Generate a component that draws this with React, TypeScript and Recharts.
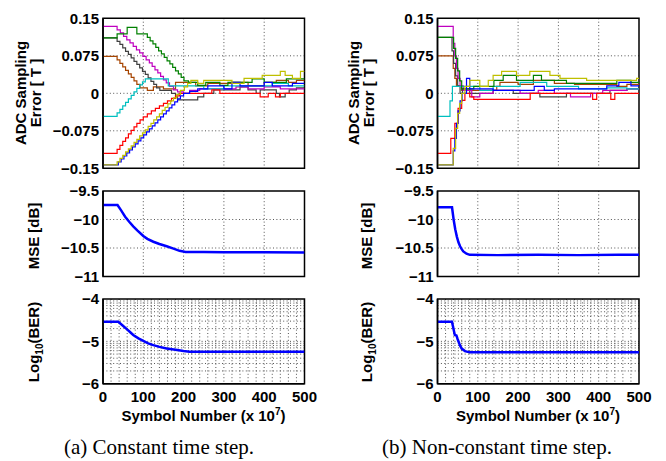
import React from 'react';
import { LineChart, Line, XAxis, YAxis, CartesianGrid, ReferenceArea } from 'recharts';

type Pt = [number, number];

// ---- axis ticks / labels ----
const symbolTicks = [0, 100, 200, 300, 400, 500];
const symbolTickLabels = ['0', '100', '200', '300', '400', '500'];
const majorGridX = [100, 200, 300, 400];
const minorGridX = [20, 40, 60, 80, 100, 120, 140, 160, 180, 200, 220, 240, 260, 280, 300, 320, 340, 360, 380, 400, 420, 440, 460, 480];
const errTicks = [-0.15, -0.075, 0, 0.075, 0.15];
const errTickLabels = ['\u22120.15', '\u22120.075', '0', '0.075', '0.15'];
const errGridY = [-0.075, 0, 0.075];
const mseTicks = [-11, -10.5, -10, -9.5];
const mseTickLabels = ['\u221211', '\u221210.5', '\u221210', '\u22129.5'];
const mseGridY = [-10.5, -10];
const berTicks = [-6, -5, -4];
const berTickLabels = ['\u22126', '\u22125', '\u22124'];
const berGridY = [-5.69897, -5.52288, -5.39794, -5.30103, -5.22185, -5.1549, -5.09691, -5.04576, -5, -4.69897, -4.52288, -4.39794, -4.30103, -4.22185, -4.1549, -4.09691, -4.04576];

// ---- (a) constant time step: ADC sampling error [T] ----
const leftMagenta: Pt[] = [[0,0.134],[35,0.127],[43,0.121],[51,0.114],[59,0.107],[67,0.101],[75,0.094],[83,0.087],[91,0.081],[99,0.074],[107,0.067],[115,0.061],[122,0.054],[129,0.047],[136,0.041],[143,0.034],[150,0.027],[157,0.021],[165,0.014],[175,0.007],[185,0.003],[200,0.0],[215,0.006],[240,0.009],[330,0.013],[360,0.009],[400,0.013],[440,0.009],[500,0.009]];
const leftGreen: Pt[] = [[0,0.111],[35,0.119],[60,0.132],[84,0.119],[110,0.112],[117,0.105],[124,0.099],[131,0.092],[138,0.085],[145,0.079],[152,0.072],[159,0.065],[166,0.059],[173,0.052],[180,0.045],[187,0.039],[194,0.032],[201,0.025],[212,0.022],[235,0.016],[255,0.022],[290,0.016],[310,0.022],[370,0.029],[400,0.022],[455,0.029],[500,0.029]];
const leftGray: Pt[] = [[0,0.111],[35,0.104],[42,0.098],[49,0.091],[56,0.084],[63,0.078],[70,0.071],[77,0.064],[84,0.058],[91,0.051],[98,0.044],[105,0.038],[112,0.031],[119,0.024],[126,0.018],[133,0.011],[141,0.006],[170,0.0],[180,-0.007],[185,-0.013],[235,-0.007],[250,0.0],[275,0.007],[340,0.013],[360,0.007],[380,0.0],[390,0.007],[430,0.0],[438,-0.007],[452,0.0],[462,0.007],[480,0.011],[500,0.011]];
const leftBrown: Pt[] = [[0,0.074],[35,0.067],[42,0.06],[49,0.053],[56,0.046],[63,0.039],[70,0.032],[77,0.025],[84,0.018],[92,0.011],[110,0.006],[125,0.013],[150,0.009],[180,0.022],[230,0.015],[260,0.02],[320,0.022],[360,0.015],[400,0.022],[430,0.026],[460,0.022],[480,0.026],[500,0.026]];
const leftCyan: Pt[] = [[0,-0.046],[35,-0.039],[42,-0.032],[49,-0.025],[56,-0.018],[63,-0.011],[70,-0.004],[77,0.003],[84,0.01],[91,0.017],[98,0.023],[105,0.029],[162,0.015],[250,0.009],[300,0.015],[420,0.02],[460,0.015],[500,0.015]];
const leftRed: Pt[] = [[0,-0.12],[35,-0.112],[42,-0.104],[49,-0.096],[56,-0.089],[63,-0.081],[70,-0.074],[77,-0.067],[84,-0.06],[92,-0.053],[100,-0.047],[110,-0.041],[120,-0.035],[130,-0.03],[140,-0.025],[150,-0.02],[160,-0.015],[170,-0.01],[180,-0.005],[190,0.0],[270,0.007],[290,0.0],[390,-0.007],[410,0.0],[428,-0.007],[440,0.0],[500,0.0]];
const leftBlue: Pt[] = [[0,-0.143],[38,-0.137],[45,-0.131],[52,-0.125],[59,-0.119],[66,-0.113],[73,-0.107],[80,-0.101],[87,-0.095],[94,-0.089],[101,-0.083],[108,-0.077],[115,-0.071],[122,-0.065],[129,-0.059],[136,-0.053],[143,-0.047],[150,-0.041],[157,-0.035],[164,-0.029],[171,-0.023],[178,-0.017],[185,-0.011],[192,-0.005],[200,0.0],[215,0.004],[235,0.009],[260,0.015],[300,0.009],[320,0.022],[340,0.015],[400,0.022],[420,0.015],[470,0.02],[500,0.02]];
const leftYellow: Pt[] = [[0,-0.143],[35,-0.137],[42,-0.13],[49,-0.124],[56,-0.117],[63,-0.111],[70,-0.105],[77,-0.098],[84,-0.092],[91,-0.085],[98,-0.079],[105,-0.073],[112,-0.066],[119,-0.06],[126,-0.053],[133,-0.047],[140,-0.041],[147,-0.034],[154,-0.028],[161,-0.021],[168,-0.015],[175,-0.009],[183,-0.002],[192,0.006],[202,0.013],[210,0.02],[218,0.026],[235,0.02],[250,0.026],[320,0.02],[350,0.03],[395,0.036],[440,0.044],[452,0.036],[470,0.03],[490,0.044],[500,0.044]];

// ---- (b) non-constant time step: ADC sampling error [T] ----
const rightMagenta: Pt[] = [[0,0.134],[39,0.1],[43,0.075],[47,0.05],[51,0.03],[56,0.015],[64,0.006],[85,-0.007],[105,0.0],[138,0.006],[205,0.0],[250,0.006],[290,0.0],[330,-0.007],[380,0.0],[410,0.006],[470,0.009],[500,0.009]];
const rightGreen: Pt[] = [[0,0.112],[40,0.09],[45,0.07],[50,0.045],[55,0.025],[60,0.009],[90,0.014],[140,0.026],[163,0.036],[196,0.026],[238,0.036],[258,0.026],[320,0.02],[445,0.026],[480,0.022],[500,0.022]];
const rightGray: Pt[] = [[0,0.112],[36,0.085],[40,0.06],[45,0.035],[50,0.015],[56,0.0],[62,0.009],[80,0.0],[138,0.006],[188,0.0],[254,-0.007],[320,0.0],[428,0.006],[470,0.009],[500,0.009]];
const rightBrown: Pt[] = [[0,0.075],[39,0.05],[43,0.03],[47,0.015],[60,0.006],[147,0.014],[155,0.022],[200,0.018],[238,0.026],[290,0.02],[340,0.018],[445,0.014],[470,0.018],[500,0.018]];
const rightCyan: Pt[] = [[0,-0.046],[31,-0.015],[37,0.014],[105,0.006],[138,0.014],[205,0.022],[271,0.014],[350,0.009],[420,0.011],[470,0.009],[500,0.009]];
const rightBlue: Pt[] = [[0,-0.143],[39,-0.115],[43,-0.09],[47,-0.06],[51,-0.035],[56,-0.015],[61,0.0],[72,0.03],[80,0.009],[138,0.006],[240,0.014],[265,0.006],[290,0.009],[420,0.015],[450,0.022],[480,0.015],[500,0.015]];
const rightRed: Pt[] = [[0,-0.12],[33,-0.09],[43,-0.06],[51,-0.03],[60,-0.014],[68,0.0],[80,-0.007],[90,-0.012],[230,0.0],[385,-0.012],[395,0.0],[430,-0.012],[440,0.0],[500,0.0]];
const rightYellow: Pt[] = [[0,-0.143],[39,-0.11],[45,-0.07],[50,-0.04],[55,-0.02],[60,0.0],[68,0.014],[80,0.026],[105,0.014],[126,0.026],[138,0.036],[159,0.044],[196,0.036],[229,0.044],[279,0.036],[304,0.03],[370,0.026],[494,0.03],[500,0.03]];

// ---- MSE [dB] ----
const leftMse: Pt[] = [[0,-9.745],[36,-9.745],[45,-9.84],[55,-9.95],[65,-10.04],[75,-10.12],[85,-10.19],[100,-10.29],[110,-10.34],[125,-10.39],[140,-10.43],[158,-10.47],[175,-10.51],[190,-10.55],[205,-10.57],[250,-10.57],[300,-10.575],[400,-10.575],[500,-10.578]];
const rightMse: Pt[] = [[0,-9.786],[36,-9.786],[40,-10.0],[44,-10.17],[48,-10.3],[52,-10.4],[56,-10.47],[60,-10.52],[64,-10.56],[72,-10.6],[80,-10.62],[150,-10.625],[250,-10.62],[350,-10.625],[450,-10.62],[500,-10.62]];

// ---- Log10(BER) ----
const leftBer: Pt[] = [[0,-4.538],[38,-4.538],[48,-4.62],[59,-4.71],[67,-4.78],[75,-4.85],[88,-4.93],[100,-4.99],[112,-5.05],[125,-5.09],[140,-5.13],[158,-5.17],[180,-5.2],[200,-5.23],[215,-5.245],[300,-5.245],[500,-5.245]];
const rightBer: Pt[] = [[0,-4.54],[36,-4.54],[40,-4.72],[43,-4.85],[47,-4.86],[50,-4.95],[54,-5.05],[57,-5.12],[60,-5.17],[64,-5.2],[68,-5.23],[80,-5.26],[500,-5.26]];

const COLORS = {
  blue: '#0000ff',
  green: '#008000',
  red: '#ff0000',
  cyan: '#00bfbf',
  magenta: '#bf00bf',
  yellow: '#bfbf00',
  gray: '#404040',
  brown: '#a64400',
};

type Series = { points: Pt[]; color: string };

const leftErr: Series[] = [
  { points: leftBrown, color: COLORS.brown },
  { points: leftGray, color: COLORS.gray },
  { points: leftMagenta, color: COLORS.magenta },
  { points: leftCyan, color: COLORS.cyan },
  { points: leftGreen, color: COLORS.green },
  { points: leftRed, color: COLORS.red },
  { points: leftBlue, color: COLORS.blue },
  { points: leftYellow, color: COLORS.yellow },
];
const rightErr: Series[] = [
  { points: rightBrown, color: COLORS.brown },
  { points: rightGray, color: COLORS.gray },
  { points: rightMagenta, color: COLORS.magenta },
  { points: rightCyan, color: COLORS.cyan },
  { points: rightGreen, color: COLORS.green },
  { points: rightRed, color: COLORS.red },
  { points: rightBlue, color: COLORS.blue },
  { points: rightYellow, color: COLORS.yellow },
];

const FONT = '"Liberation Sans", Arial, Helvetica, sans-serif';
const tickStyle = { fontSize: 15, fontWeight: 700, fill: '#000', fontFamily: FONT };
const frameLine = { stroke: '#000', strokeWidth: 1.5 };
const BlankTick = () => <g />;

const toRows = (p: Pt[]) => p.map(([x, y]) => ({ x, y }));

type PanelProps = {
  left: number;
  top: number;
  height: number;
  mTop: number;
  mBottom: number;
  yAxisWidth: number;
  mRight: number;
  series: Series[];
  domain: [number, number];
  yTicks: number[];
  yLabels: string[];
  gridX: number[];
  gridY: number[];
  showX: boolean;
  step: boolean;
  lineWidth: number;
};

function Panel(p: PanelProps) {
  const fmtY = (v: number) => {
    const i = p.yTicks.indexOf(v);
    return i >= 0 ? p.yLabels[i] : String(v);
  };
  const fmtX = (v: number) => {
    const i = symbolTicks.indexOf(v);
    return i >= 0 ? symbolTickLabels[i] : String(v);
  };
  return (
    <div style={{ position: 'absolute', left: p.left, top: p.top }}>
      <LineChart
        width={320}
        height={p.height}
        margin={{ top: p.mTop, right: p.mRight, bottom: p.mBottom, left: 0 }}
      >
        <CartesianGrid
          verticalValues={p.gridX}
          horizontalValues={p.gridY}
          stroke="#555"
          strokeDasharray="1 2.4"
          strokeWidth={1}
        />
        <XAxis
          type="number"
          dataKey="x"
          domain={[0, 500]}
          ticks={symbolTicks}
          interval={0}
          height={p.showX ? 25 : 0}
          tick={p.showX ? tickStyle : BlankTick}
          tickFormatter={fmtX}
          axisLine={frameLine}
          tickLine={false}
          tickSize={6}
          tickMargin={2}
          allowDataOverflow
        />
        <YAxis
          type="number"
          domain={p.domain}
          ticks={p.yTicks}
          interval={0}
          width={p.yAxisWidth}
          tick={tickStyle}
          tickFormatter={fmtY}
          axisLine={frameLine}
          tickLine={false}
          tickSize={0}
          tickMargin={4}
          allowDataOverflow
        />
        <ReferenceArea x1={0} x2={500} y1={p.domain[0]} y2={p.domain[1]} fill="none" fillOpacity={0} stroke="#000" strokeWidth={1.5} strokeOpacity={1} ifOverflow="visible" />
        {p.series.map((s, i) => (
          <Line
            key={i}
            data={toRows(s.points)}
            dataKey="y"
            type={p.step ? 'stepAfter' : 'linear'}
            stroke={s.color}
            strokeWidth={p.lineWidth}
            dot={false}
            activeDot={false}
            isAnimationActive={false}
          />
        ))}
      </LineChart>
    </div>
  );
}

export default function App() {
  const cols = [
    { left: 0, yw: 103, mr: 15.5, err: leftErr, mse: leftMse, ber: leftBer },
    { left: 334, yw: 103.5, mr: 15, err: rightErr, mse: rightMse, ber: rightBer },
  ];
  return (
    <div style={{ position: 'absolute', left: 0, top: 0, width: 666, height: 461, background: '#fff', overflow: 'hidden' }}>
      {cols.map((c, i) => (
        <React.Fragment key={i}>
          <Panel left={c.left} top={0} height={185} mTop={18.3} mBottom={16.7} yAxisWidth={c.yw} mRight={c.mr}
            series={c.err} domain={[-0.15, 0.15]} yTicks={errTicks} yLabels={errTickLabels}
            gridX={majorGridX} gridY={errGridY} showX={false} step={true} lineWidth={1.2} />
          <Panel left={c.left} top={178} height={108} mTop={13} mBottom={9.5} yAxisWidth={c.yw} mRight={c.mr}
            series={[{ points: c.mse, color: COLORS.blue }]} domain={[-11, -9.5]} yTicks={mseTicks} yLabels={mseTickLabels}
            gridX={majorGridX} gridY={mseGridY} showX={false} step={false} lineWidth={2.5} />
          <Panel left={c.left} top={288} height={125} mTop={11} mBottom={4.3} yAxisWidth={c.yw} mRight={c.mr}
            series={[{ points: c.ber, color: COLORS.blue }]} domain={[-6, -4]} yTicks={berTicks} yLabels={berTickLabels}
            gridX={minorGridX} gridY={berGridY} showX={true} step={false} lineWidth={2.5} />
        </React.Fragment>
      ))}
      <svg width={666} height={461} style={{ position: 'absolute', left: 0, top: 0, pointerEvents: 'none' }}>
        <g fontFamily={FONT} fontWeight={700} fontSize={15} fill="#000">
          {[0, 333].map((dx, i) => (
            <g key={i}>
              <g transform={`translate(${dx},93) rotate(-90)`}>
                <text x={0} y={25.7} textAnchor="middle">ADC Sampling</text>
                <text x={0} y={40.7} textAnchor="middle">Error [ T ]</text>
              </g>
              <g transform={`translate(${dx},236) rotate(-90)`}>
                <text x={0} y={39} textAnchor="middle">MSE [dB]</text>
              </g>
              <g transform={`translate(${dx},342) rotate(-90)`}>
                <text x={0} y={39} textAnchor="middle">
                  Log<tspan fontSize={10} dy={4}>10</tspan><tspan dy={-4}>(BER)</tspan>
                </text>
              </g>
            </g>
          ))}
          <text x={203.5} y={421} textAnchor="middle">
            Symbol Number (x 10<tspan fontSize={10} dy={-6}>7</tspan><tspan dy={6}>)</tspan>
          </text>
          <text x={538} y={421} textAnchor="middle">
            Symbol Number (x 10<tspan fontSize={10} dy={-6}>7</tspan><tspan dy={6}>)</tspan>
          </text>
        </g>
        <g fontFamily='"Liberation Serif", "Times New Roman", serif' fontSize={21} fill="#000">
          <text x={159} y={454} textAnchor="middle">(a) Constant time step.</text>
          <text x={497} y={454} textAnchor="middle">(b) Non-constant time step.</text>
        </g>
      </svg>
    </div>
  );
}
